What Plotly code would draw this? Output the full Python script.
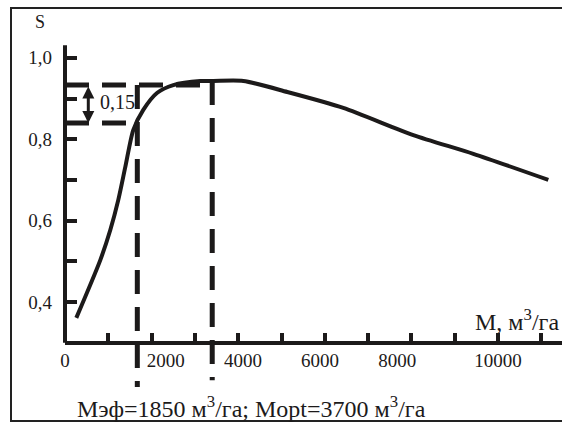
import plotly.graph_objects as go

# ---- data ----
curve_M = [261, 815, 1046, 1231, 1393, 1578, 1808, 2131, 2501, 3125, 3425, 4118, 5134, 6427, 8044, 9430, 11162]
curve_S = [0.361, 0.503, 0.577, 0.651, 0.732, 0.823, 0.872, 0.914, 0.933, 0.943, 0.943, 0.943, 0.916, 0.877, 0.810, 0.764, 0.700]

NB = "\u00a0"
x_tickvals = [0, 1000, 2000, 3000, 4000, 5000, 6000, 7000, 8000, 9000, 10000, 11000]
x_ticktext = ["0", " ", NB * 6 + "2000", " ", NB * 2 + "4000", " ", "6000" + NB * 2, " ",
              "8000" + NB * 6, " ", "10000", " "]
y_tickvals = [0.4, 0.5, 0.6, 0.7, 0.8, 0.9, 1.0]
y_ticktext = ["0,4", " ", "0,6", " ", "0,8", " ", "1,0"]

M_ef = 1670          # vertical dashed line (Mэф)
M_opt = 3400         # vertical dashed line (Mopt)
S_ef = 0.840         # lower horizontal dashed level
S_opt = 0.933        # upper horizontal dashed level
S_ef_bottom = 0.191
S_opt_bottom = 0.208
S_axis = 0.3         # level of the M axis
S_axis_top = 1.031   # top of the S axis line
arrow_M = 538
label_015 = "0,15"

X_RANGE = [0, 11478]
Y_RANGE = [0.1027, 1.142]

FONT = "Liberation Serif, Times New Roman, serif"
INK = "#1c1a1a"

fig = go.Figure()

fig.add_trace(go.Scatter(
    x=curve_M, y=curve_S, mode="lines",
    line=dict(color=INK, width=4, shape="spline", smoothing=0.7),
    showlegend=False, hoverinfo="skip"))

dash = "24px,13px"
shapes = [
    # S axis line
    dict(type="line", xref="paper", yref="y", x0=0, x1=0, y0=S_axis, y1=S_axis_top,
         line=dict(color=INK, width=4)),
    # dashed construction lines
    dict(type="line", xref="x", yref="y", x0=M_ef, x1=M_ef, y0=S_opt, y1=S_ef_bottom,
         line=dict(color=INK, width=5, dash=dash)),
    dict(type="line", xref="x", yref="y", x0=M_opt, x1=M_opt, y0=0.943, y1=S_opt_bottom,
         line=dict(color=INK, width=5, dash=dash)),
    dict(type="line", xref="x", yref="y", x0=0, x1=M_opt, y0=S_opt, y1=S_opt,
         line=dict(color=INK, width=5, dash=dash)),
    dict(type="line", xref="x", yref="y", x0=0, x1=M_ef, y0=S_ef, y1=S_ef,
         line=dict(color=INK, width=5, dash=dash)),
    # frame
    dict(type="rect", xref="paper", yref="paper",
         x0=(11 - 65) / 497, x1=1.05, y0=1 - 421 / 423, y1=1 - 8 / 423,
         line=dict(color="#222", width=2)),
]

annotations = [
    dict(x=arrow_M, y=S_ef, ax=arrow_M, ay=S_opt,
         xref="x", yref="y", axref="x", ayref="y", text="", showarrow=True,
         arrowhead=2, startarrowhead=2, arrowside="end+start",
         arrowsize=0.8, startarrowsize=0.8, arrowwidth=3, arrowcolor=INK),
    dict(x=1213, y=0.891, xref="x", yref="y", text=label_015, showarrow=False,
         font=dict(family=FONT, size=20, color=INK)),
    dict(x=(33 - 65) / 497, y=1.088, xref="paper", yref="y", text="S", showarrow=False,
         font=dict(family=FONT, size=18, color=INK)),
    dict(x=0.998, y=0.356, xref="paper", yref="y", xanchor="right", text="M, м<sup>3</sup>/га",
         showarrow=False, font=dict(family=FONT, size=24, color=INK)),
    dict(x=(75 - 65) / 497, y=0.142, xref="paper", yref="y", xanchor="left",
         text="Mэф=1850 м<sup>3</sup>/га; Mopt=3700 м<sup>3</sup>/га",
         showarrow=False, font=dict(family=FONT, size=24, color=INK)),
]

x_pos = (S_axis - Y_RANGE[0]) / (Y_RANGE[1] - Y_RANGE[0])

fig.update_layout(
    width=562, height=423,
    margin=dict(l=65, r=0, t=0, b=0),
    paper_bgcolor="white", plot_bgcolor="white",
    showlegend=False,
    shapes=shapes, annotations=annotations,
    xaxis=dict(range=X_RANGE, anchor="free", position=x_pos,
               showline=True, linecolor=INK, linewidth=4,
               ticks="inside", ticklen=8, tickwidth=4, tickcolor=INK,
               tickvals=x_tickvals, ticktext=x_ticktext,
               tickfont=dict(family=FONT, size=19, color=INK),
               showgrid=False, zeroline=False, fixedrange=True),
    yaxis=dict(range=Y_RANGE, showline=False,
               ticks="inside", ticklen=12, tickwidth=4, tickcolor=INK,
               tickvals=y_tickvals, ticktext=y_ticktext,
               tickfont=dict(family=FONT, size=19, color=INK),
               ticklabelstandoff=12,
               showgrid=False, zeroline=False, fixedrange=True),
)

fig.write_html("out.html", config={"displayModeBar": False},
               post_script="document.body.style.margin='0';document.body.style.overflow='hidden';")
